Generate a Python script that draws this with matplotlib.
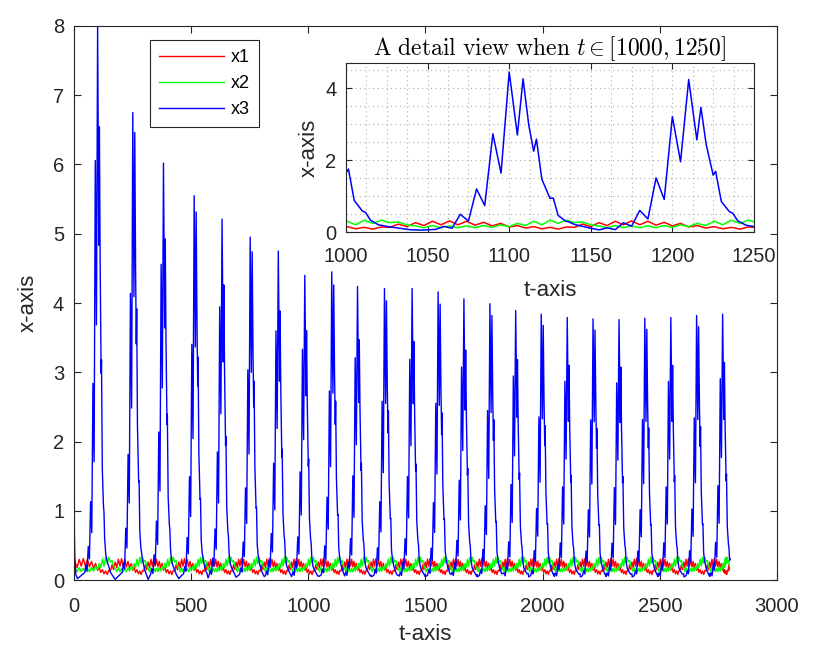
import matplotlib.pyplot as plt
from matplotlib.ticker import MultipleLocator
import numpy as np

plt.rcParams['font.family'] = ['Liberation Sans', 'DejaVu Sans']
plt.rcParams['mathtext.fontset'] = 'cm'

# x3 peaks
peak_t = [101, 251, 382, 513, 632, 752, 872, 985, 1100, 1210, 1325, 1443,
          1554, 1664, 1775, 1885, 1994, 2105, 2215, 2326, 2436, 2547, 2657, 2768]
peak_v = [8.0, 6.75, 6.02, 5.55, 5.21, 4.95, 4.75, 4.4, 4.45, 4.24, 4.21, 4.21,
          4.16, 4.06, 3.99, 3.89, 3.84, 3.79, 3.77, 3.76, 3.78, 3.79, 3.82, 3.84]
# which of the two pulse shapes each peak looks like
shape = "ABABABAAB" + "ABABABABABABABA"
# x3 minimum between two peaks
trough_v = [0.01, 0.01, 0.02, 0.03, 0.04, 0.05, 0.05, 0.06, 0.06, 0.07, 0.07, 0.08,
            0.08, 0.08, 0.09, 0.09, 0.09, 0.09, 0.09, 0.09, 0.09, 0.09, 0.09]
t_end = 2800
x3_end = 0.3

# start of the run
x3_start_t = [0, 3, 8, 15]
x3_start_v = [1.0, 0.35, 0.08, 0.02]
x2_start_t = [0, 1.5, 3]
x2_start_v = [7.0, 1.2, 0.4]

# pulse shapes of x3, offset from the peak (inset, peaks at 1100 and 1210)
pulse_a_off = [-55, -50, -45, -40, -35, -30, -25, -20, -15, -10, -5, 0, 5, 7.5,
               10.7, 15, 16.5, 20, 25, 27, 30, 35, 41, 49, 55]
pulse_a_val = [0.06, 0.12, 0.07, 0.27, 0.17, 0.63, 0.38, 1.58, 0.95, 3.37, 2.05,
               4.45, 2.69, 3.64, 2.56, 1.66, 1.77, 0.89, 0.59, 0.55, 0.33, 0.2,
               0.15, 0.1, 0.06]
pulse_b_off = [-54, -45, -40, -35, -30, -25, -20, -15, -10, -5, 0, 5, 8.5, 12, 15,
               16.7, 20, 25, 27, 30, 34.5, 37, 40, 45, 50, 55]
pulse_b_val = [0.05, 0.07, 0.15, 0.1, 0.47, 0.29, 1.14, 0.7, 2.6, 1.56, 4.24, 2.57,
               4.06, 2.83, 2.14, 2.46, 1.4, 0.89, 0.9, 0.44, 0.29, 0.26, 0.2, 0.15,
               0.1, 0.07]
pulses = {"A": (pulse_a_off, pulse_a_val), "B": (pulse_b_off, pulse_b_val)}

# fast zigzag of x1 and x2 over one cycle, offset from the x3 peak
rg_off = [-55, -50, -45, -40, -35, -30, -25, -20, -15, -10, -5,
          0, 5, 10, 15, 20, 25, 30, 35, 40, 45, 50]
x1_cyc = [0.26, 0.18, 0.3, 0.2, 0.31, 0.2, 0.3, 0.19, 0.27, 0.17, 0.24,
          0.14, 0.18, 0.11, 0.15, 0.09, 0.13, 0.08, 0.14, 0.13, 0.22, 0.15]
x2_cyc = [0.17, 0.12, 0.18, 0.12, 0.17, 0.12, 0.17, 0.12, 0.18, 0.13, 0.2,
          0.15, 0.24, 0.18, 0.3, 0.2, 0.33, 0.24, 0.33, 0.26, 0.28, 0.2]

n = len(peak_t)
bounds = [0] + [(peak_t[k - 1] + peak_t[k]) / 2 for k in range(1, n)] + [t_end]

t3, x3 = list(x3_start_t), list(x3_start_v)
for k in range(n):
    p = peak_t[k]
    off, val = pulses[shape[k]]
    sc = peak_v[k] / max(val)
    if k > 0:
        t3.append(bounds[k])
        x3.append(trough_v[k - 1])
    for o, v in zip(off, val):
        if bounds[k] - p < o < bounds[k + 1] - p and p + o > t3[-1]:
            t3.append(p + o)
            x3.append(v * sc)
t3.append(t_end)
x3.append(x3_end)

t1, x1 = [], []
t2, x2 = list(x2_start_t), list(x2_start_v)
for k in range(n):
    p = peak_t[k]
    left = p - max(bounds[k], 5)
    right = bounds[k + 1] - p
    for o, r, g in zip(rg_off, x1_cyc, x2_cyc):
        tt = p + o * (left if o < 0 else right) / 55
        t1.append(tt)
        x1.append(r)
        t2.append(tt)
        x2.append(g)

dark = (0.15, 0.15, 0.15)

fig = plt.figure(figsize=(8.31, 6.61), dpi=100)
ax = fig.add_axes([0.089, 0.1225, 0.846, 0.8382])
ax.plot(t1, x1, color=(1, 0, 0), lw=1.0, label="x1")
ax.plot(t2, x2, color=(0, 1, 0), lw=1.0, label="x2")
ax.plot(t3, x3, color=(0, 0, 1), lw=1.0, label="x3")
ax.set_xlim(0, 3000)
ax.set_ylim(0, 8)
ax.set_xticks(range(0, 3001, 500))
ax.set_yticks(range(0, 9))
ax.tick_params(direction="in", top=True, right=True, length=5, labelsize=14.5,
               colors=dark, width=0.8)
ax.tick_params(axis="x", pad=12)
ax.tick_params(axis="y", pad=7)
for s in ax.spines.values():
    s.set_color(dark)
    s.set_linewidth(0.8)
ax.set_xlabel("t-axis", fontsize=16, color=dark, labelpad=6)
ax.set_ylabel("x-axis", fontsize=16, color=dark, labelpad=10)
leg = ax.legend(loc="upper left", bbox_to_anchor=(0.108, 0.9747), fontsize=13,
                handlelength=3.6, handletextpad=0.4, fancybox=False, framealpha=1,
                edgecolor=dark, borderpad=0.5, labelspacing=0.5, borderaxespad=0)
leg.get_frame().set_linewidth(0.8)

ins = fig.add_axes([0.4164, 0.649, 0.4909, 0.2557])
ins.plot(t1, x1, color=(1, 0, 0), lw=1.1)
ins.plot(t2, x2, color=(0, 1, 0), lw=1.1)
ins.plot(t3, x3, color=(0, 0, 1), lw=1.1)
ins.set_xlim(1000, 1250)
ins.set_ylim(0, 4.7)
ins.set_xticks(range(1000, 1251, 50))
ins.set_yticks([0, 2, 4])
ins.xaxis.set_minor_locator(MultipleLocator(12.5))
ins.yaxis.set_minor_locator(MultipleLocator(0.5))
ins.grid(which="both", ls=(0, (1, 3)), color="0.55", lw=0.8, alpha=0.7)
ins.tick_params(which="major", direction="in", top=True, right=True, length=4,
                labelsize=14.5, colors=dark, width=0.8)
ins.tick_params(axis="x", which="major", pad=11)
ins.tick_params(axis="y", which="major", pad=7)
ins.tick_params(which="minor", length=0)
for s in ins.spines.values():
    s.set_color(dark)
    s.set_linewidth(0.8)
ins.set_xlabel("t-axis", fontsize=16, color=dark, labelpad=10)
ins.set_ylabel("x-axis", fontsize=16, color=dark, labelpad=4)
ins.set_title(r"$\mathrm{A\ detail\ view\ when\ }t \in [1000, 1250]$",
              fontsize=17, color="black", pad=6)

fig.savefig("out.png", dpi=100)
